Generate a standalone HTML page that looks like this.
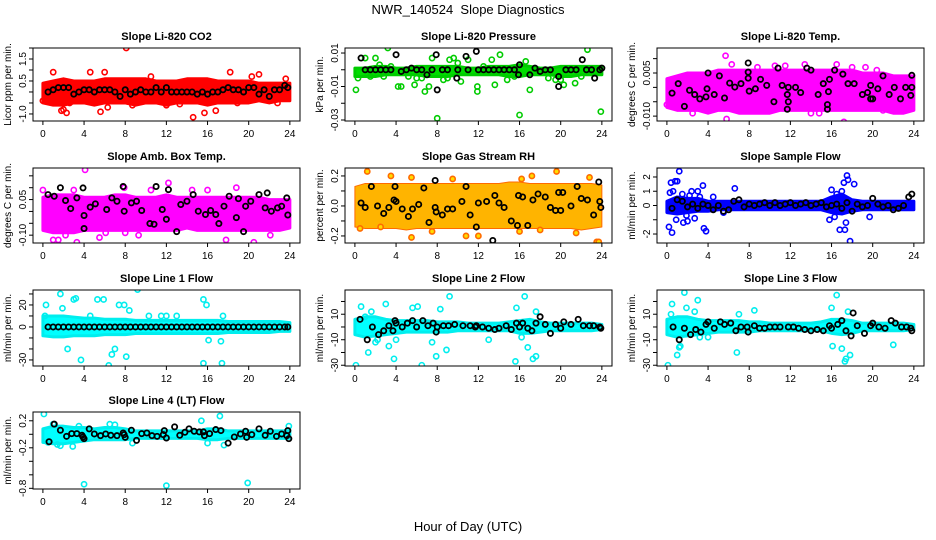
<!DOCTYPE html>
<html><head><meta charset="utf-8"><style>
html,body{margin:0;padding:0;background:#fff}
svg{display:block;font-family:"Liberation Sans",Arial,sans-serif}
</style></head><body>
<svg id="c" width="936" height="540" viewBox="0 0 936 540">
<text x="468" y="14" text-anchor="middle" font-size="13" style="white-space:pre">NWR_140524  Slope Diagnostics</text>
<text x="468" y="531" text-anchor="middle" font-size="13">Hour of Day (UTC)</text>
</svg>
<script>
const hours=[0,1,2,3,4,5,6,7,8,9,10,11,12,13,14,15,16,17,18,19,20,21,22,23,24];
const halfHours=[0.5,1,1.5,2,2.5,3,3.5,4,4.5,5,5.5,6,6.5,7,7.5,8,8.5,9,9.5,10,10.5,11,11.5,12,12.5,13,13.5,14,14.5,15,15.5,16,16.5,17,17.5,18,18.5,19,19.5,20,20.5,21,21.5,22,22.5,23,23.5,23.8];
const xTicks=[0,4,8,12,16,20,24];

// P1 CO2
const co2Lo=[-0.5,-0.6,-0.6,-0.5,-0.5,-0.6,-0.5,-0.5,-0.5,-0.6,-0.5,-0.5,-0.6,-0.5,-0.5,-0.5,-0.6,-0.5,-0.5,-0.5,-0.5,-0.4,-0.5,-0.4,-0.4];
const co2Hi=[0.4,0.5,0.6,0.5,0.5,0.5,0.6,0.6,0.6,0.6,0.6,0.5,0.5,0.5,0.6,0.6,0.6,0.5,0.5,0.5,0.5,0.4,0.4,0.4,0.4];
const co2OutX=[8.1,1.0,4.6,6.0,18.2,21.0,23.6,2.0,2.3,1.8,5.6,6.3,14.6,15.7,16.8,12.0,8.7,18.9,0.0,2.6,10.5,13.3,20.3,22.8];
const co2OutY=[2.0,0.9,0.9,0.9,0.9,0.8,0.6,-0.8,-0.95,-0.85,-0.9,-0.7,-1.15,-0.95,-0.85,-0.6,-0.6,-0.5,-0.4,-0.5,0.7,-0.55,0.7,-0.5];
const co2BlkY=[0.0,0.1,0.2,0.2,0.2,-0.1,0.0,0.1,0.1,0.0,0.1,0.1,0.1,0.0,-0.2,0.1,-0.1,0.0,0.1,0.0,0.0,0.2,0.0,0.2,0.0,0.0,0.0,0.0,0.0,-0.1,0.0,-0.1,0.0,0.0,0.1,0.2,0.1,0.1,0.0,0.2,0.2,-0.1,0.1,-0.2,0.1,0.1,0.3,0.2];

// P2 Pressure
const presLo=[-0.004,-0.004,-0.004,-0.003,-0.003,-0.003,-0.003,-0.004,-0.004,-0.004,-0.003,-0.003,-0.003,-0.003,-0.003,-0.004,-0.004,-0.003,-0.003,-0.003,-0.004,-0.004,-0.003,-0.003,-0.003];
const presHi=[0.001,0.001,0.002,0.002,0.001,0.001,0.002,0.002,0.002,0.002,0.002,0.001,0.001,0.002,0.002,0.002,0.003,0.002,0.001,0.001,0.002,0.002,0.002,0.002,0.002];
const presOutX=[0.1,0.3,1.0,2.0,3.2,2.4,4.2,4.5,5.8,6.8,7.2,7.5,8.0,9.2,9.6,10.3,11.0,11.9,11.9,13.6,14.1,13.3,16.0,16.6,17.0,20.3,21.4,22.6,23.9,18.8,5.2,1.5,3.5,6.5,10.0,12.5,19.5,2.8,6.0,8.6,9.0,14.8,15.5,20.0,22.0];
const presOutY=[-0.012,-0.005,0.007,0.007,0.013,0.003,-0.01,-0.01,-0.009,-0.013,-0.01,0.007,-0.029,0.006,0.007,-0.007,0.006,-0.013,-0.01,-0.009,0.009,0.006,-0.027,0.005,-0.012,-0.009,-0.008,0.012,-0.025,-0.005,-0.004,-0.004,0.002,-0.005,0.004,0.002,-0.006,-0.004,-0.005,-0.006,-0.005,-0.006,-0.004,-0.006,-0.004];
const presBlkX=[0.6,4.0,7.9,11.8,10.8,8.0,9.9,7.0,15.9,16.0,17.0,19.8,19.8,22.1,23.3,24.0,1,1.5,2,2.5,3,3.5,4.5,5,5.5,6,6.5,7.5,8.5,9,10,11,12,12.5,13,13.5,14,14.5,15,15.5,17.5,18,18.5,19,20.5,21,21.5,22.5,23,23.8];
const presBlkY=[0.007,0.009,0.009,0.011,0.008,-0.012,-0.005,-0.003,-0.003,0.003,-0.003,-0.004,-0.010,0.006,-0.005,0.001,0,0,0,0,0,0,-0.001,0,0.001,0,0,0,0,0,0,0,0,0,0,0,0,0,0,0,0.001,-0.001,0,0,0,0,0,0,0,0];

// P3 Li-820 Temp
const tmpLo=[-0.007,-0.008,-0.008,-0.008,-0.009,-0.008,-0.008,-0.009,-0.009,-0.009,-0.009,-0.008,-0.008,-0.008,-0.008,-0.008,-0.008,-0.008,-0.008,-0.008,-0.008,-0.008,-0.009,-0.009,-0.008];
const tmpHi=[0.003,0.004,0.005,0.005,0.005,0.006,0.006,0.006,0.006,0.006,0.006,0.006,0.006,0.006,0.006,0.006,0.006,0.006,0.006,0.005,0.005,0.005,0.004,0.004,0.004];
const tmpOutX=[5.7,5.8,17.2,13.4,6.3,16.5,19.3,20.4,14.8,14.0,3.9,0.0,21.0,23.0,10.5,11.5,8.8,2.5,18.0];
const tmpOutY=[0.011,-0.011,-0.012,0.008,0.008,0.008,0.007,0.006,-0.009,-0.009,-0.008,-0.006,-0.008,-0.008,0.0075,0.0075,0.007,-0.009,0.007];
const tmpBlkX=[0.5,1.1,1.7,2.2,2.7,3.2,3.8,3.9,4.0,4.6,5.1,5.6,6.1,6.6,7.2,7.9,7.9,7.9,8.0,8.6,9.1,9.7,10.4,10.8,11.2,11.8,11.7,11.8,11.7,12.5,13.0,13.6,14.0,14.7,15.2,15.7,15.8,15.6,15.6,16.3,17.1,17.6,18.2,19.0,19.5,19.8,19.8,20.0,20.5,21.0,21.6,22.1,22.7,23.2,23.7,23.8,23.8];
const tmpBlkY=[-0.002,0.0013,-0.0066,-0.001,-0.0025,-0.004,-0.0033,-0.0005,0.005,-0.0025,0.004,-0.0037,0.0015,0.0001,0.0013,0.0085,0.0053,0.0032,-0.0013,-0.0005,0.0028,0.0007,-0.005,0.0067,0.0007,0,-0.0025,-0.005,-0.0076,0,-0.0018,0.0067,0.006,-0.0025,0.0013,-0.0015,0.0028,-0.006,-0.0076,0.006,0.0046,0.0013,0.0013,-0.0025,-0.0018,0.0007,-0.004,-0.004,-0.0005,0.004,-0.0025,0,-0.004,0,-0.0028,0,0.0042];

// P4 Amb Box Temp
const ambLo=[-0.08,-0.09,-0.09,-0.09,-0.08,-0.08,-0.08,-0.08,-0.08,-0.08,-0.08,-0.08,-0.08,-0.08,-0.07,-0.08,-0.08,-0.08,-0.08,-0.08,-0.08,-0.08,-0.08,-0.08,-0.07];
const ambHi=[0.06,0.07,0.07,0.07,0.06,0.06,0.06,0.07,0.07,0.06,0.06,0.06,0.07,0.06,0.06,0.06,0.06,0.06,0.06,0.06,0.06,0.06,0.05,0.05,0.05];
const ambOutX=[4.1,12.2,0.0,3.0,7.9,10.5,1.0,1.5,3.3,20.5,5.5,6.1,8.0,22.1,17.8,14.5,18.8,2.2,9.3,16.0];
const ambOutY=[0.175,0.12,0.09,0.09,0.1,0.09,-0.12,-0.12,-0.13,-0.13,-0.11,-0.09,-0.09,-0.1,-0.12,0.09,0.1,-0.1,-0.1,0.09];
const ambBlkX=[0.5,1.1,1.7,2.2,2.7,3.3,3.9,4.0,4.0,4.6,5.1,6.2,6.7,7.2,7.8,7.9,8.6,9.1,9.6,10.4,10.8,11.0,11.6,12.0,12.2,13.0,13.4,14.0,14.6,15.1,15.8,16.3,16.8,17.1,17.6,18.1,18.8,19.0,19.5,19.7,20.2,21.0,21.6,21.8,22.2,22.8,23.2,23.7,23.8];
const ambBlkY=[0.071,0.064,0.10,0.046,0.012,0.057,0.099,-0.017,-0.072,0.018,0.032,0.008,0.057,0.043,0.105,0.001,0.036,0.043,0.004,-0.051,-0.054,0.105,0.008,-0.033,0.092,-0.085,0.029,0.043,0.071,0.001,-0.013,0.004,-0.013,-0.051,0.022,0.064,-0.026,0.054,-0.085,0.022,0.043,0.071,0.015,0.078,0.001,0.015,0.022,0.057,-0.015];

// P5 Gas Stream RH
const rhLo=[-0.14,-0.15,-0.15,-0.15,-0.15,-0.16,-0.15,-0.15,-0.15,-0.15,-0.15,-0.15,-0.15,-0.15,-0.15,-0.15,-0.15,-0.15,-0.15,-0.15,-0.15,-0.15,-0.16,-0.15,-0.14];
const rhHi=[0.13,0.15,0.15,0.15,0.15,0.15,0.15,0.15,0.15,0.15,0.15,0.15,0.15,0.15,0.15,0.16,0.16,0.15,0.15,0.15,0.15,0.15,0.15,0.15,0.14];
const rhOutX=[1.2,3.5,5.5,19.6,22.8,23.5,23.7,5.5,10.8,12.0,0.5,2.5,7.5,16.0,18.0,21.5,16.2,17.2,9.5];
const rhOutY=[0.23,0.2,0.19,0.23,0.19,-0.24,-0.24,-0.21,-0.2,-0.2,-0.15,-0.14,-0.17,-0.17,-0.16,-0.18,0.18,0.2,0.18];
const rhBlkX=[0.6,1.0,1.6,2.2,2.8,3.3,3.8,3.9,4.0,4.6,5.2,5.6,6.2,6.7,7.2,7.8,7.8,7.9,8.5,9.0,9.5,10.4,10.8,11.2,11.8,12.0,12.8,13.4,13.6,14.0,14.5,15.2,15.8,15.9,16.3,16.8,17.3,17.8,18.5,19.0,19.5,19.8,20.0,20.2,21.0,21.6,22.0,22.6,23.2,23.7,23.8,23.9];
const rhBlkY=[0.02,-0.01,0.13,0,-0.05,-0.01,0.04,0.13,0.03,-0.02,-0.07,-0.02,0.01,0.12,-0.11,0.17,-0.01,-0.04,-0.06,-0.02,-0.02,0.03,0.13,-0.06,-0.14,0.02,0.03,-0.23,0.07,0.02,-0.01,-0.1,-0.13,0.07,0.06,-0.13,0.04,0.08,0.06,-0.01,-0.03,0.09,-0.03,0.09,0.0,0.13,0.05,0.04,-0.06,0.16,0.03,-0.01];

// P6 Sample Flow
const sfLo=[-0.5,-0.6,-0.5,-0.4,-0.4,-0.3,-0.3,-0.3,-0.3,-0.3,-0.3,-0.3,-0.3,-0.3,-0.3,-0.3,-0.5,-0.6,-0.4,-0.3,-0.3,-0.3,-0.3,-0.3,-0.3];
const sfHi=[0.3,0.6,0.5,0.5,0.3,0.3,0.3,0.3,0.3,0.3,0.3,0.3,0.3,0.3,0.3,0.3,0.6,0.8,0.4,0.3,0.3,0.3,0.3,0.3,0.3];
const sfOutX=[1.2,0.4,0.8,1.0,2.4,3.5,6.6,17.5,17.6,17.2,16.0,0.2,0.5,1.6,3.6,3.8,17.8,16.8,17.3,19.7,15.8,2.0,3.0,0.6,1.5,2.7,3.2,1.9,0.9,16.5,17.0,17.4,18.2,16.3,0.3,2.2,4.5,5.5];
const sfOutY=[2.4,1.6,1.7,1.7,1.0,1.4,1.2,2.1,1.8,1.6,1.1,-1.5,-1.9,-1.2,-1.6,-1.8,-2.5,-1.7,-1.7,-0.8,-1.0,-1.1,1.0,1.0,0.8,-0.9,0.6,-0.7,-1.0,0.8,1.0,-1.2,1.5,-0.8,0.9,0.7,0.6,-0.5];
const sfBlkY=[-0.2,0.4,0.3,-0.1,0.1,-0.2,0.1,0.0,-0.3,0.0,-0.4,-0.3,0.3,0.4,-0.1,0.1,0.0,0.1,0.2,0.0,0.2,0.0,0.1,0.2,0.0,0.1,0.2,0.0,0.1,0.2,-0.1,0.0,0.1,-0.2,0.2,-0.4,0.1,-0.1,0.0,0.5,0.1,-0.1,0.0,-0.3,-0.2,0.0,0.6,0.8];

// P7 Line 1 Flow
const l1Lo=[-8,-9,-9,-8,-8,-8,-7,-7,-7,-6,-6,-6,-6,-6,-6,-6,-6,-6,-5,-5,-5,-5,-5,-4,-4];
const l1Hi=[10,10,10,9,8,8,7,7,7,6,6,6,6,6,6,6,6,6,5,5,5,5,5,5,4];
const l1OutX=[0.3,0.2,1.7,1.9,3.0,3.2,2.4,3.7,4.6,5.3,5.9,6.4,6.7,7.0,7.4,7.9,8.1,8.4,9.2,15.6,15.9,15.6,16.1,17.3,17.4,17.5,12.0,13.0,10.3,11.5];
const l1OutY=[20,10,30,17,25,26,-20,-30,10,25,25,-35,-25,-20,20,20,-27,15,34,25,20,-33,-12,-13,-33,10,10,10,10,10];
const l1BlkY=[0,0,0,0,0,0,0,0,0,0,0,0,0,0,0,0,0,0,0,0,0,0,0,0,0,0,0,0,0,0,0,0,0,0,0,0,0,0,0,0,0,0,0,0,0,0,0,0];

// P8 Line 2 Flow
const l2Lo=[-6,-8,-7,-6,-5,-4,-4,-4,-4,-4,-3,-3,-3,-3,-3,-3,-5,-5,-4,-3,-3,-3,-3,-3,-2];
const l2Hi=[6,8,8,6,5,5,5,5,4,4,4,3,3,3,3,4,5,6,4,3,3,3,3,3,2];
const l2OutX=[0.1,0.6,1.3,1.0,1.6,2.2,2.0,3.0,3.3,3.8,4.0,5.6,6.1,6.5,7.5,7.9,8.3,8.9,9.2,13.0,15.6,15.7,16.2,16.5,17.3,17.6,17.6,16.8];
const l2OutY=[-30,16,-20,8,12,-10,-12,18,-15,-25,-10,15,16,-30,-12,-23,14,-18,24,-10,-27,15,-8,24,-25,-23,12,-16];
const l2BlkX=[0.5,1.2,1.7,2.3,2.8,3.3,3.7,3.9,4.0,4.6,5.1,5.6,6.0,6.6,7.1,7.6,7.9,8.0,8.6,9.1,9.7,10.5,11.2,11.7,11.8,12.4,13.0,13.6,14.0,14.7,15.2,15.7,16.0,16.3,16.8,17.2,17.6,18.0,18.5,19.0,19.5,20.0,20.3,21.0,21.7,22.2,22.8,23.2,23.8,23.9];
const l2BlkY=[6,-10,0,-6,-3,1,-3,5,3,0,3,5,0,5,1,3,-4,0,1,1,2,1,1,0,1,0,-1,-2,-1,1,-2,3,0,3,-1,-3,3,8,2,-5,2,-1,4,2,6,1,1,1,0,-1];

// P9 Line 3 Flow
const l3Lo=[-6,-8,-7,-6,-5,-4,-4,-4,-4,-3,-3,-3,-3,-3,-3,-3,-5,-6,-5,-3,-3,-3,-3,-3,-2];
const l3Hi=[6,8,8,6,5,5,5,5,4,4,3,3,3,3,3,4,6,6,5,3,3,3,3,3,2];
const l3OutX=[0.1,0.4,0.5,1.0,1.2,1.3,1.7,1.9,3.0,3.2,2.7,4.0,6.8,8.5,16.0,16.5,17.0,17.3,17.4,17.6,17.8,16.1,22.0,7.0];
const l3OutY=[-30,10,18,-22,-16,-15,27,15,21,-8,12,-8,-20,13,15,25,-17,-27,-25,12,-22,-15,-14,10];
const l3BlkX=[0.6,1.2,1.7,2.3,2.8,3.3,3.8,4.0,4.6,5.2,5.6,6.2,6.7,7.2,7.8,7.9,8.5,9.0,9.5,10.0,10.5,11.0,11.8,12.3,12.8,13.4,14.0,14.6,15.2,15.8,16.0,16.6,17.0,17.4,17.9,18.1,18.5,19.2,19.8,20.0,20.6,21.2,21.8,22.2,22.8,23.3,23.7,23.8];
const l3BlkY=[0,-10,-1,-6,-2,-4,2,4,-1,4,2,3,-3,0,0,-4,1,-1,-1,0,0,0,0,0,-1,-2,-3,-2,-3,1,-1,2,5,-3,-7,11,1,-5,1,3,0,-1,5,3,0,0,-1,-3];

// P10 Line 4 (LT) Flow
const l4Lo=[-0.12,-0.14,-0.14,-0.12,-0.1,-0.08,-0.08,-0.08,-0.08,-0.06,-0.06,-0.06,-0.06,-0.06,-0.06,-0.06,-0.08,-0.08,-0.06,-0.06,-0.06,-0.06,-0.06,-0.06,-0.06];
const l4Hi=[0.08,0.12,0.12,0.1,0.1,0.08,0.1,0.1,0.08,0.05,0.05,0.05,0.05,0.05,0.05,0.05,0.08,0.08,0.05,0.05,0.05,0.05,0.05,0.05,0.05];
const l4OutX=[0.1,0.5,1.0,1.4,2.9,4.0,12.0,19.9,15.4,17.2,17.6,23.9,1.7,6.5,8.7,16.0,3.5,7.0];
const l4OutY=[0.3,-0.12,0.15,-0.15,-0.18,-0.74,-0.76,-0.72,0.2,0.27,-0.16,0.12,-0.17,0.15,-0.13,-0.13,0.12,0.14];
const l4BlkX=[0.6,1.1,1.7,2.3,2.8,3.3,3.8,3.9,4.0,4.5,5.0,5.6,6.1,6.6,7.2,7.8,7.9,8.0,8.6,9.1,9.6,10.1,10.6,11.1,11.7,11.8,12.0,12.8,13.3,13.8,14.2,14.7,15.2,15.6,15.7,16.2,16.8,17.3,18.0,18.6,19.2,19.7,19.8,20.3,21.0,21.6,22.1,22.7,23.2,23.7,23.8,23.9];
const l4BlkY=[-0.11,0.15,0.06,-0.03,0.01,0.01,-0.015,-0.04,-0.065,0.08,0.005,-0.02,0.005,-0.015,-0.02,0.02,-0.005,-0.045,0.06,-0.09,0.01,0.02,-0.02,-0.03,-0.005,0.055,-0.055,0.11,-0.015,0.03,0.08,0.045,0.035,0.035,-0.02,0.01,0.07,0.055,-0.13,-0.04,0.005,0.045,-0.045,-0.005,0.08,-0.015,0.045,-0.03,0.005,-0.02,0.055,-0.065];

const yTicksCo2=[-1,-0.5,0,0.5,1,1.5,2], yLabCo2=["-1.0","","","0.5","","1.5",""];
const yTicksPres=[-0.03,-0.02,-0.01,0,0.01], yLabPres=["-0.03","","-0.01","","0.01"];
const yTicksTmp=[-0.01,-0.005,0,0.005,0.01], yLabTmp=["-0.010","","","0.005",""];
const yTicksAmb=[-0.1,-0.05,0,0.05,0.1,0.15], yLabAmb=["-0.10","","","0.05","",""];
const yTicksRh=[-0.2,-0.1,0,0.1,0.2], yLabRh=["-0.2","","0.0","","0.2"];
const yTicksSf=[-2,-1,0,1,2], yLabSf=["-2","","0","1","2"];
const yTicksL1=[-30,-20,-10,0,10,20,30], yLabL1=["-30","","","0","","20",""];
const yTicksL2=[-30,-20,-10,0,10,20], yLabL2=["-30","","-10","","10",""];
const yTicksL4=[-0.8,-0.6,-0.4,-0.2,0,0.2], yLabL4=["-0.8","","","-0.2","","0.2"];

const panels=[
 {id:'co2',col:0,row:0,title:'Slope Li-820 CO2',ylab:'Licor ppm per min.',lo:-1.32,hi:2.0,tk:yTicksCo2,tl:yLabCo2,col1:'#ff0000',fill:'#ff0000',bLo:co2Lo,bHi:co2Hi,ox:co2OutX,oy:co2OutY,bx:halfHours,by:co2BlkY},
 {id:'pressure',col:1,row:0,title:'Slope Li-820 Pressure',ylab:'kPa per min.',lo:-0.0306,hi:0.013,tk:yTicksPres,tl:yLabPres,col1:'#00cc00',fill:'#00dd00',bLo:presLo,bHi:presHi,ox:presOutX,oy:presOutY,bx:presBlkX,by:presBlkY},
 {id:'li820-temp',col:2,row:0,title:'Slope Li-820 Temp.',ylab:'degrees C per min.',lo:-0.0117,hi:0.0137,tk:yTicksTmp,tl:yLabTmp,col1:'#ff00ff',fill:'#ff00ff',bLo:tmpLo,bHi:tmpHi,ox:tmpOutX,oy:tmpOutY,bx:tmpBlkX,by:tmpBlkY},
 {id:'amb-box-temp',col:0,row:1,title:'Slope Amb. Box Temp.',ylab:'degrees C per min.',lo:-0.133,hi:0.183,tk:yTicksAmb,tl:yLabAmb,col1:'#ff00ff',fill:'#ff00ff',bLo:ambLo,bHi:ambHi,ox:ambOutX,oy:ambOutY,bx:ambBlkX,by:ambBlkY},
 {id:'gas-stream-rh',col:1,row:1,title:'Slope Gas Stream RH',ylab:'percent per min.',lo:-0.247,hi:0.253,tk:yTicksRh,tl:yLabRh,col1:'#ff6a00',fill:'#ffb400',bw:1,bLo:rhLo,bHi:rhHi,ox:rhOutX,oy:rhOutY,bx:rhBlkX,by:rhBlkY},
 {id:'sample-flow',col:2,row:1,title:'Slope Sample Flow',ylab:'ml/min per min.',lo:-2.63,hi:2.63,tk:yTicksSf,tl:yLabSf,col1:'#0000ff',fill:'#0000ff',bLo:sfLo,bHi:sfHi,ox:sfOutX,oy:sfOutY,bx:halfHours,by:sfBlkY},
 {id:'line1-flow',col:0,row:2,title:'Slope Line 1 Flow',ylab:'ml/min per min.',lo:-35.5,hi:33.6,tk:yTicksL1,tl:yLabL1,col1:'#00eeee',fill:'#00ffff',bLo:l1Lo,bHi:l1Hi,ox:l1OutX,oy:l1OutY,bx:halfHours,by:l1BlkY},
 {id:'line2-flow',col:1,row:2,title:'Slope Line 2 Flow',ylab:'ml/min per min.',lo:-30.6,hi:29,tk:yTicksL2,tl:yLabL2,col1:'#00eeee',fill:'#00ffff',bLo:l2Lo,bHi:l2Hi,ox:l2OutX,oy:l2OutY,bx:l2BlkX,by:l2BlkY},
 {id:'line3-flow',col:2,row:2,title:'Slope Line 3 Flow',ylab:'ml/min per min.',lo:-30.6,hi:29,tk:yTicksL2,tl:yLabL2,col1:'#00eeee',fill:'#00ffff',bLo:l3Lo,bHi:l3Hi,ox:l3OutX,oy:l3OutY,bx:l3BlkX,by:l3BlkY},
 {id:'line4-flow',col:0,row:3,title:'Slope Line 4 (LT) Flow',ylab:'ml/min per min.',lo:-0.81,hi:0.33,tk:yTicksL4,tl:yLabL4,col1:'#00eeee',fill:'#00ffff',bLo:l4Lo,bHi:l4Hi,ox:l4OutX,oy:l4OutY,bx:l4BlkX,by:l4BlkY}
];
const rowTop=[48,168,290,412], rowBot=[121,243,366,489];
const NS='http://www.w3.org/2000/svg';
const svg=document.getElementById('c');
function mk(tag,attrs,parent){const e=document.createElementNS(NS,tag);for(const k in attrs)e.setAttribute(k,attrs[k]);(parent||svg).appendChild(e);return e;}

panels.forEach(p=>{
  const L=33+312*p.col, R=L+267, T=rowTop[p.row], B=rowBot[p.row];
  const sx=h=>L+9.9+h*10.29;
  const sy=v=>T+(p.hi-v)/(p.hi-p.lo)*(B-T);
  const g=mk('g',{});
  
  
  const t=mk('text',{x:(L+R)/2,y:T-8,'text-anchor':'middle','font-size':11,'font-weight':'bold'},g);
  t.textContent=p.title;
  
  
  const clip=mk('clipPath',{id:'clip-'+p.id},g);
  mk('rect',{x:L,y:T,width:R-L,height:B-T},clip);
  const plot=mk('g',{'clip-path':'url(#clip-'+p.id+')'},g);
  let pts=[];
  hours.forEach((h,i)=>pts.push(sx(h)+','+sy(p.bHi[i])));
  for(let i=hours.length-1;i>=0;i--)pts.push(sx(hours[i])+','+sy(p.bLo[i]));
  const band=mk('polygon',{points:pts.join(' '),fill:p.fill,stroke:p.col1,'stroke-width':p.bw||3,'stroke-linejoin':'round'},plot);
  
  
  p.ox.forEach((x,i)=>{
    const c=mk('circle',{cx:sx(x),cy:sy(p.oy[i]),r:2.6,fill:p.id==='gas-stream-rh'?'#ffdd00':'none',stroke:p.col1,'stroke-width':1.6},plot);
    
    
  });
  p.bx.forEach((x,i)=>{
    const c=mk('circle',{cx:sx(x),cy:sy(p.by[i]),r:2.6,fill:'none',stroke:'#000','stroke-width':1.8},plot);
    
    
  });
  const box=mk('rect',{x:L,y:T,width:R-L,height:B-T,fill:'none',stroke:'#000','stroke-width':1},g);
  
  
  const xa=mk('g',{},g);
  
  
  mk('line',{x1:sx(xTicks[0]),x2:sx(xTicks[xTicks.length-1]),y1:B,y2:B,stroke:'#000'},xa);
  xTicks.forEach(v=>{
    mk('line',{x1:sx(v),x2:sx(v),y1:B,y2:B+4,stroke:'#000'},xa);
    const tx=mk('text',{x:sx(v),y:B+16,'text-anchor':'middle','font-size':10},xa);
    tx.textContent=String(v);
  });
  const ya=mk('g',{},g);
  
  
  const vis=p.tk.filter(v=>v>=p.lo-1e-9&&v<=p.hi+1e-9);
  mk('line',{x1:L,x2:L,y1:sy(Math.min(...vis)),y2:sy(Math.max(...vis)),stroke:'#000'},ya);
  p.tk.forEach((v,i)=>{
    if(v<p.lo-1e-9||v>p.hi+1e-9)return;
    mk('line',{x1:L-4,x2:L,y1:sy(v),y2:sy(v),stroke:'#000'},ya);
    if(p.tl[i]){
      const ty=mk('text',{x:L-7,y:sy(v),'text-anchor':'middle','font-size':10,transform:'rotate(-90 '+(L-7)+' '+sy(v)+')'},ya);
      ty.textContent=p.tl[i];
    }
  });
  const yt=mk('text',{x:L-22,y:(T+B)/2,'text-anchor':'middle','font-size':10,transform:'rotate(-90 '+(L-22)+' '+((T+B)/2)+')'},g);
  yt.textContent=p.ylab;
  
  
});
</script>
</body></html>
